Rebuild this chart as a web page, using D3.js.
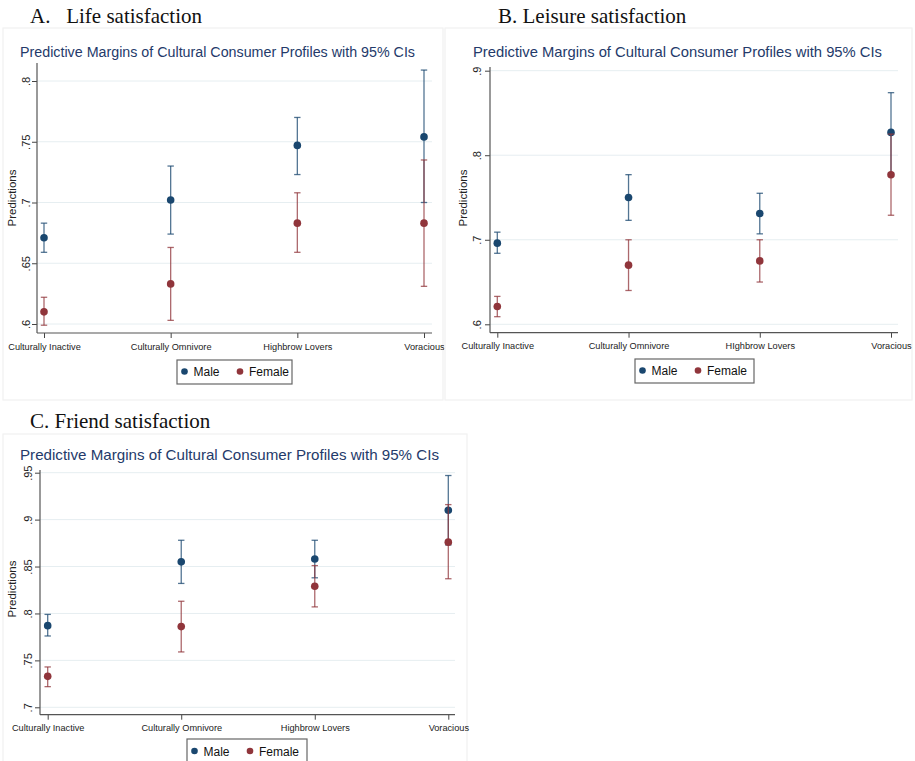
<!DOCTYPE html>
<html>
<head>
<meta charset="utf-8">
<script src="https://cdn.jsdelivr.net/npm/d3@7"></script>
<style>
  html, body { margin: 0; padding: 0; background: #ffffff; }
  svg { display: block; }
</style>
</head>
<body>
<svg id="chart" width="915" height="761"></svg>
<script>
// ---------------- DATA ----------------
const categories = ["Culturally Inactive", "Culturally Omnivore", "Highbrow Lovers", "Voracious"];
const categoriesB = ["Culturally Inactive", "Culturally Omnivore", "HIghbrow Lovers", "Voracious"];
const seriesNames = ["Male", "Female"];

// A. Life satisfaction
const lifeMale     = [0.671, 0.702, 0.747, 0.754];
const lifeMaleLo   = [0.659, 0.674, 0.723, 0.700];
const lifeMaleHi   = [0.683, 0.730, 0.770, 0.809];
const lifeFemale   = [0.610, 0.633, 0.683, 0.683];
const lifeFemaleLo = [0.599, 0.603, 0.659, 0.631];
const lifeFemaleHi = [0.622, 0.663, 0.708, 0.735];
const lifeTicks    = [0.6, 0.65, 0.7, 0.75, 0.8];

// B. Leisure satisfaction
const leisureMale     = [0.696, 0.750, 0.731, 0.827];
const leisureMaleLo   = [0.684, 0.723, 0.707, 0.779];
const leisureMaleHi   = [0.709, 0.777, 0.755, 0.874];
const leisureFemale   = [0.621, 0.670, 0.675, 0.777];
const leisureFemaleLo = [0.609, 0.640, 0.650, 0.729];
const leisureFemaleHi = [0.633, 0.700, 0.700, 0.825];
const leisureTicks    = [0.6, 0.7, 0.8, 0.9];

// C. Friend satisfaction
const friendMale     = [0.787, 0.855, 0.858, 0.910];
const friendMaleLo   = [0.776, 0.832, 0.838, 0.873];
const friendMaleHi   = [0.799, 0.878, 0.878, 0.947];
const friendFemale   = [0.733, 0.786, 0.829, 0.876];
const friendFemaleLo = [0.722, 0.759, 0.807, 0.837];
const friendFemaleHi = [0.743, 0.813, 0.851, 0.916];
const friendTicks    = [0.7, 0.75, 0.8, 0.85, 0.9, 0.95];

const panelTitles = ["A.\u00a0\u00a0\u00a0Life satisfaction", "B. Leisure satisfaction", "C. Friend satisfaction"];
const subtitle = "Predictive Margins of Cultural Consumer Profiles with 95% CIs";
const yLabel = "Predictions";

// ---------------- STYLE / LAYOUT ----------------
const colMale = "#1a476f";
const colFemale = "#90353b";
const sans = "'Liberation Sans', Arial, Helvetica, sans-serif";
const serif = "'Liberation Serif', 'Times New Roman', serif";

const panels = [
  { title: panelTitles[0], cats: categories,
    male: [lifeMale, lifeMaleLo, lifeMaleHi], female: [lifeFemale, lifeFemaleLo, lifeFemaleHi],
    ticks: lifeTicks, dom: [0.6, 0.8], rng: [324, 81],
    frame: [3, 28, 440, 372],
    titleX: 30, titleY: 23, subX: 20, subY: 57, subW: 395, subFs: 14,
    axX: 37, axEnd: 432, axBottom: 333, axTop: 63, catRange: [44, 424],
    tickLabX: 30, yLabX: 16, yLabY: 198, xLabY: 350,
    legend: [177, 360, 115, 24] },
  { title: panelTitles[1], cats: categoriesB,
    male: [leisureMale, leisureMaleLo, leisureMaleHi], female: [leisureFemale, leisureFemaleLo, leisureFemaleHi],
    ticks: leisureTicks, dom: [0.6, 0.9], rng: [324.3, 70.7],
    frame: [445, 28, 467, 372],
    titleX: 498, titleY: 23, subX: 473, subY: 57, subW: 409, subFs: 14.5,
    axX: 490, axEnd: 898, axBottom: 332.7, axTop: 67, catRange: [497.3, 891],
    tickLabX: 481, yLabX: 467, yLabY: 198, xLabY: 349,
    legend: [635, 359, 119, 24] },
  { title: panelTitles[2], cats: categories,
    male: [friendMale, friendMaleLo, friendMaleHi], female: [friendFemale, friendFemaleLo, friendFemaleHi],
    ticks: friendTicks, dom: [0.7, 0.95], rng: [707.3, 472.7],
    frame: [3, 434, 464, 330],
    titleX: 30, titleY: 428, subX: 20, subY: 460, subW: 419, subFs: 15,
    axX: 40, axEnd: 455, axBottom: 714.7, axTop: 470, catRange: [47.7, 448.3],
    tickLabX: 32, yLabX: 16, yLabY: 589, xLabY: 731,
    legend: [187, 739, 120, 25] }
];

const svg = d3.select("#chart");
const fmt = v => d3.format("")(+v.toFixed(2)).replace(/^0/, "");

panels.forEach(p => {
  const g = svg.append("g");

  // faint panel frame
  g.append("rect")
    .attr("x", p.frame[0]).attr("y", p.frame[1])
    .attr("width", p.frame[2]).attr("height", p.frame[3])
    .attr("fill", "#ffffff").attr("stroke", "#f1f1f1").attr("stroke-width", 1.2);

  // panel title
  svg.append("text")
    .attr("x", p.titleX).attr("y", p.titleY)
    .attr("font-family", serif).attr("font-size", 21).attr("fill", "#111")
    .text(p.title);

  // subtitle
  g.append("text")
    .attr("x", p.subX).attr("y", p.subY)
    .attr("font-family", sans).attr("font-size", p.subFs).attr("fill", "#243a6a")
    .attr("textLength", p.subW).attr("lengthAdjust", "spacingAndGlyphs")
    .text(subtitle);

  const y = d3.scaleLinear().domain(p.dom).range(p.rng);
  const x = d3.scalePoint().domain(p.cats).range(p.catRange);

  // gridlines
  g.append("g").selectAll("line").data(p.ticks).join("line")
    .attr("x1", p.axX).attr("x2", p.axEnd)
    .attr("y1", d => y(d)).attr("y2", d => y(d))
    .attr("stroke", "#e6eef1").attr("stroke-width", 1);

  // y axis
  const yAxis = d3.axisLeft(y).tickValues(p.ticks).tickSize(5).tickPadding(3).tickFormat(fmt);
  const ya = g.append("g").attr("transform", `translate(${p.axX},0)`).call(yAxis);
  ya.select(".domain").remove();
  ya.selectAll(".tick line").attr("stroke", "#444");
  ya.selectAll(".tick text")
    .attr("font-family", sans).attr("font-size", 11).attr("fill", "#222")
    .attr("x", null).attr("dy", null)
    .attr("text-anchor", "middle")
    .attr("transform", function() { return `translate(${p.tickLabX - p.axX},0) rotate(-90)`; });
  g.append("line")
    .attr("x1", p.axX).attr("x2", p.axX).attr("y1", p.axTop).attr("y2", p.axBottom)
    .attr("stroke", "#555").attr("stroke-width", 1.2);

  // x axis
  const xAxis = d3.axisBottom(x).tickSize(5).tickPadding(5);
  const xa = g.append("g").attr("transform", `translate(0,${p.axBottom})`).call(xAxis);
  xa.select(".domain").remove();
  xa.selectAll(".tick line").attr("stroke", "#444");
  xa.selectAll(".tick text")
    .attr("font-family", sans).attr("font-size", 9.2).attr("fill", "#222")
    .attr("dy", null).attr("y", p.xLabY - p.axBottom);
  g.append("line")
    .attr("x1", p.axX).attr("x2", p.axEnd).attr("y1", p.axBottom).attr("y2", p.axBottom)
    .attr("stroke", "#555").attr("stroke-width", 1.2);

  // y label
  g.append("text")
    .attr("transform", `translate(${p.yLabX},${p.yLabY}) rotate(-90)`)
    .attr("text-anchor", "middle")
    .attr("font-family", sans).attr("font-size", 11.5).attr("fill", "#222")
    .text(yLabel);

  // series
  const series = [
    { vals: p.male, color: colMale },
    { vals: p.female, color: colFemale }
  ];
  series.forEach(s => {
    const rows = p.cats.map((c, i) => ({ c, v: s.vals[0][i], lo: s.vals[1][i], hi: s.vals[2][i] }));
    const sg = g.append("g");
    sg.selectAll("line.bar").data(rows).join("line").attr("class", "bar")
      .attr("x1", d => x(d.c)).attr("x2", d => x(d.c))
      .attr("y1", d => y(d.lo)).attr("y2", d => y(d.hi))
      .attr("stroke", s.color).attr("stroke-opacity", 0.75).attr("stroke-width", 1.3);
    ["lo", "hi"].forEach(k => {
      sg.selectAll("line.cap" + k).data(rows).join("line").attr("class", "cap" + k)
        .attr("x1", d => x(d.c) - 3.2).attr("x2", d => x(d.c) + 3.2)
        .attr("y1", d => y(d[k])).attr("y2", d => y(d[k]))
        .attr("stroke", s.color).attr("stroke-opacity", 0.75).attr("stroke-width", 1.3);
    });
    sg.selectAll("circle").data(rows).join("circle")
      .attr("cx", d => x(d.c)).attr("cy", d => y(d.v)).attr("r", 3.8)
      .attr("fill", s.color);
  });

  // legend
  const [lx, ly, lw, lh] = p.legend;
  const lg = g.append("g");
  lg.append("rect").attr("x", lx).attr("y", ly).attr("width", lw).attr("height", lh)
    .attr("fill", "#fff").attr("stroke", "#666").attr("stroke-width", 1.2);
  const items = [
    { name: seriesNames[0], color: colMale, dx: 7.5 },
    { name: seriesNames[1], color: colFemale, dx: 63 }
  ];
  items.forEach(it => {
    lg.append("circle").attr("cx", lx + it.dx).attr("cy", ly + lh / 2 - 0.5).attr("r", 3.3).attr("fill", it.color);
    lg.append("text").attr("x", lx + it.dx + 9).attr("y", ly + lh / 2 + 4.3)
      .attr("font-family", sans).attr("font-size", 12).attr("fill", "#111")
      .text(it.name);
  });
});
</script>
</body>
</html>
